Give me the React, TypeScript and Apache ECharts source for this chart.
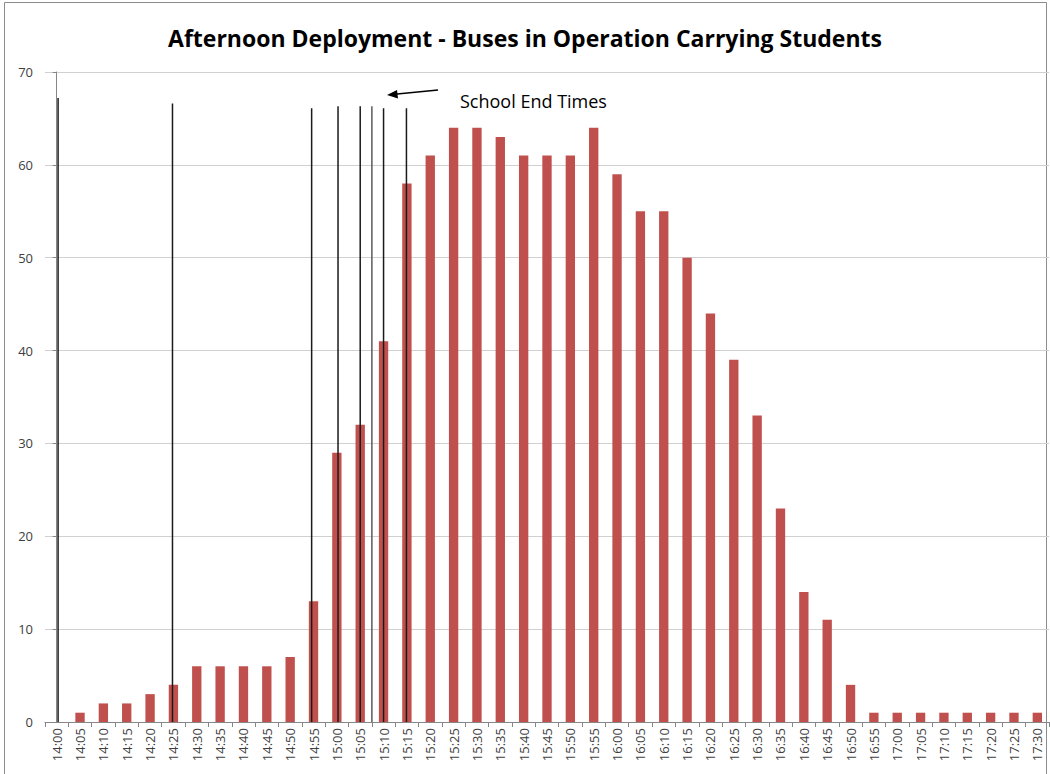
import React, { useEffect, useRef } from "react";
import * as echarts from "echarts";

const categories = [
  "14:00","14:05","14:10","14:15","14:20","14:25","14:30","14:35","14:40","14:45","14:50","14:55",
  "15:00","15:05","15:10","15:15","15:20","15:25","15:30","15:35","15:40","15:45","15:50","15:55",
  "16:00","16:05","16:10","16:15","16:20","16:25","16:30","16:35","16:40","16:45","16:50","16:55",
  "17:00","17:05","17:10","17:15","17:20","17:25","17:30",
];
const buses = [
  0, 1, 2, 2, 3, 4, 6, 6, 6, 6, 7, 13,
  29, 32, 41, 58, 61, 64, 64, 63, 61, 61, 61, 64,
  59, 55, 55, 50, 44, 39, 33, 23, 14, 11, 4, 1,
  1, 1, 1, 1, 1, 1, 1,
];
// School end-time markers: position in category index units, top value
const endTimePositions = [0.06, 4.96, 10.92, 12.05, 13.0, 13.5, 14.0, 14.98];
const endTimeTops = [67.2, 66.6, 66.1, 66.3, 66.3, 66.3, 66.1, 66.1];
const endTimeColors = ["#1a1a1a", "#1a1a1a", "#1a1a1a", "#1a1a1a", "#1a1a1a", "#5a5a5a", "#1a1a1a", "#1a1a1a"];

const yTicks = { min: 0, max: 70, interval: 10 };
const title = "Afternoon Deployment - Buses in Operation Carrying Students";
const annotation = "School End Times";

export default function App() {
  const ref = useRef<HTMLDivElement>(null);
  useEffect(() => {
    if (!ref.current) return;
    const chart = echarts.init(ref.current, null, { renderer: "svg" });
    const lineSeries = endTimePositions.map((x, i) => ({
      type: "line",
      xAxisIndex: 1,
      yAxisIndex: 0,
      data: [[x, 0], [x, endTimeTops[i]]],
      symbol: "none",
      lineStyle: { color: endTimeColors[i], width: 1.5 },
      z: 5,
      silent: true,
    }));
    chart.setOption({
      animation: false,
      backgroundColor: "#ffffff",
      title: {
        text: title,
        left: "center",
        top: 21,
        textStyle: { fontFamily: "Open Sans", fontWeight: "bold", fontSize: 23, color: "#000" },
      },
      grid: { left: 45, right: 1, top: 72, bottom: 52, containLabel: false },
      xAxis: [
        {
          type: "category",
          data: categories,
          boundaryGap: true,
          axisLine: { show: true, lineStyle: { color: "#868686", width: 1 } },
          axisTick: { show: true, length: 5, lineStyle: { color: "#868686" } },
          axisLabel: {
            rotate: 90,
            interval: 0,
            fontSize: 13,
            fontFamily: "Open Sans",
            color: "#404040",
            margin: 6,
          },
          splitLine: { show: false },
        },
        {
          type: "value",
          min: -0.5,
          max: 42.5,
          show: false,
        },
      ],
      yAxis: {
        type: "value",
        min: yTicks.min,
        max: yTicks.max,
        interval: yTicks.interval,
        axisLine: { show: true, lineStyle: { color: "#868686" } },
        axisTick: { show: true, length: 4, lineStyle: { color: "#868686" } },
        axisLabel: { fontSize: 13, fontFamily: "Open Sans", color: "#404040", margin: 12 },
        splitLine: { show: true, lineStyle: { color: "#d0d0d0", width: 1 } },
      },
      series: [
        {
          type: "bar",
          data: buses,
          barWidth: "40%",
          itemStyle: { color: "#C0504D" },
          z: 2,
        },
        ...lineSeries,
      ],
      graphic: [
        {
          type: "rect",
          shape: { x: 4.5, y: 2.5, width: 1042, height: 790 },
          style: { fill: "none", stroke: "#8c8c8c", lineWidth: 1 },
          silent: true,
        },
        {
          type: "line",
          shape: { x1: 438, y1: 90, x2: 392, y2: 94.5 },
          style: { stroke: "#000", lineWidth: 1.3 },
        },
        {
          type: "polygon",
          shape: { points: [[387, 95], [397, 90], [398, 98.5]] },
          style: { fill: "#000" },
        },
        {
          type: "text",
          x: 460,
          y: 101,
          style: {
            text: annotation,
            fontFamily: "Open Sans",
            fontSize: 18,
            fill: "#000",
            verticalAlign: "middle",
            align: "left",
          },
        },
      ],
    });
    return () => chart.dispose();
  }, []);
  return (
    <div
      ref={ref}
      style={{ position: "absolute", left: 0, top: 0, width: 1050, height: 774 }}
    />
  );
}
